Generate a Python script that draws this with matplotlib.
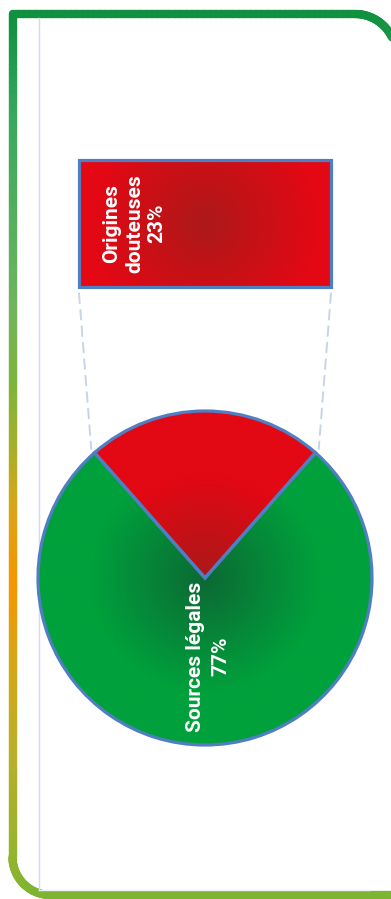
import numpy as np
import matplotlib
matplotlib.use('Agg')
import matplotlib.pyplot as plt
from matplotlib.collections import LineCollection
from matplotlib.colors import LinearSegmentedColormap
from matplotlib.patches import ConnectionPatch

# data
shares = [23, 77]
names = ['Origines\ndouteuses', 'Sources légales']
label_text = ['%s\n%d%%' % (n, s) for n, s in zip(names, shares)]

W, H = 391, 899
fig = plt.figure(figsize=(W / 100, H / 100), dpi=100)
plt.rcParams['font.family'] = ['Roboto', 'DejaVu Sans']


def px_box(x0, y0, x1, y1):
    return [x0 / W, 1 - y1 / H, (x1 - x0) / W, (y1 - y0) / H]


def radial(shape, cx, cy, sx, sy, r0, c0, c1):
    # radial gradient, colour c0 at centre to c1 at distance r0 (pixels)
    ny, nx = shape
    yy, xx = np.mgrid[0:1:ny * 1j, 0:1:nx * 1j]
    d = np.hypot((xx - cx) * sx, (yy - cy) * sy) / r0
    t = np.clip(d, 0, 1)[..., None]
    c0 = np.array(c0) / 255.0
    c1 = np.array(c1) / 255.0
    return c0 + (c1 - c0) * t


# background / frame
bg = fig.add_axes([0, 0, 1, 1])
bg.set_xlim(0, W)
bg.set_ylim(H, 0)
bg.axis('off')

xl, yt, xr, yb = 12.5, 14, 396, 895
rtr, rbl = 41, 38
pts = []
pts += [(x, yt) for x in np.linspace(xl, xr - rtr, 60)]
a = np.linspace(-np.pi / 2, 0, 40)
pts += list(zip(xr - rtr + rtr * np.cos(a), yt + rtr + rtr * np.sin(a)))
pts += [(xr, y) for y in np.linspace(yt + rtr, yb, 200)]
pts += [(x, yb) for x in np.linspace(xr, xl + rbl, 60)]
a = np.linspace(np.pi / 2, np.pi, 40)
pts += list(zip(xl + rbl + rbl * np.cos(a), yb - rbl + rbl * np.sin(a)))
pts += [(xl, y) for y in np.linspace(yb - rbl, yt, 300)]
pts = np.array(pts)
segs = np.stack([pts[:-1], pts[1:]], axis=1)
stops = [(14, (16, 145, 64)), (110, (55, 168, 94)), (300, (112, 180, 95)),
         (380, (125, 180, 60)), (450, (170, 175, 40)), (500, (215, 165, 25)),
         (580, (245, 150, 0)), (650, (215, 165, 20)), (750, (185, 175, 40)),
         (850, (150, 180, 45)), (895, (125, 180, 50))]
cmap = LinearSegmentedColormap.from_list(
    'frame', [((y - 14) / 881, np.array(c) / 255) for y, c in stops])
ymid = (segs[:, 0, 1] + segs[:, 1, 1]) / 2
lc = LineCollection(segs, colors=cmap((ymid - 14) / 881), linewidths=6,
                    capstyle='round')
bg.add_collection(lc)
bg.plot([39, 39], [18, 890], color='#d3dbec', lw=1)
bg.plot([39, 370], [890, 890], color='#eceff5', lw=1)

# pie
cx, cy, R = 205, 578, 167
pax = fig.add_axes(px_box(cx - 1.1 * R, cy - 1.1 * R, cx + 1.1 * R, cy + 1.1 * R))
wedges, _ = pax.pie(shares, startangle=90 - shares[0] * 1.8,
                    colors=['#e10a14', '#00a03c'],
                    wedgeprops=dict(edgecolor='#4f7fc2', linewidth=2.3))
pax.set_xlim(-1.1, 1.1)
pax.set_ylim(-1.1, 1.1)
pax.axis('off')

grads = [((170, 25, 25), (226, 8, 20), 0.62), ((12, 105, 52), (0, 160, 60), 0.68)]
for w, (c0, c1, rr) in zip(wedges, grads):
    img = radial((400, 400), 0.5, 0.5, 2, 2, rr, c0, c1)
    im = pax.imshow(img, extent=(-1, 1, -1, 1), origin='lower', zorder=1,
                    interpolation='bilinear')
    im.set_clip_path(w)
    w.set_facecolor('none')
    w.set_zorder(3)
    w.set_clip_on(False)

g = wedges[1]
mid = np.deg2rad((g.theta1 + g.theta2) / 2)
pax.text(0.47 * np.cos(mid) + 0.02, 0.47 * np.sin(mid), label_text[1],
         rotation=90, ha='center', va='center', color='white', fontsize=15,
         fontweight='bold', linespacing=1.45, zorder=4)

# bar of the small slice
bx0, by0, bx1, by1 = 79, 160, 331, 287
bax = fig.add_axes(px_box(bx0, by0, bx1, by1))
bars = bax.barh([0], [shares[0]], height=1, left=0, color='#e10a14',
                edgecolor='#4f7fc2', linewidth=2.3)
bax.set_xlim(0, shares[0])
bax.set_ylim(-0.5, 0.5)
bax.axis('off')
b = bars[0]
img = radial((200, 300), 0.5, 0.5, bx1 - bx0, by1 - by0, 115,
             (172, 25, 25), (228, 8, 20))
im = bax.imshow(img, extent=(0, shares[0], -0.5, 0.5), origin='lower',
                aspect='auto', zorder=1, interpolation='bilinear')
im.set_clip_path(b)
b.set_facecolor('none')
b.set_zorder(3)
b.set_clip_on(False)
bax.text(0.22, 0.5, label_text[0], transform=bax.transAxes, rotation=90,
         ha='center', va='center', color='white', fontsize=15,
         fontweight='bold', linespacing=1.25, zorder=4)

# dashed connectors
r_slice = wedges[0]
for ang, xa in [(r_slice.theta2, 0), (r_slice.theta1, shares[0])]:
    t = np.deg2rad(ang)
    con = ConnectionPatch(xyA=(xa, -0.55), coordsA=bax.transData,
                          xyB=(np.cos(t) * 1.03, np.sin(t) * 1.03),
                          coordsB=pax.transData,
                          color='#c9d3e8', lw=1.4, linestyle=(0, (5, 3.5)))
    fig.add_artist(con)

fig.savefig('out.png', dpi=100)
